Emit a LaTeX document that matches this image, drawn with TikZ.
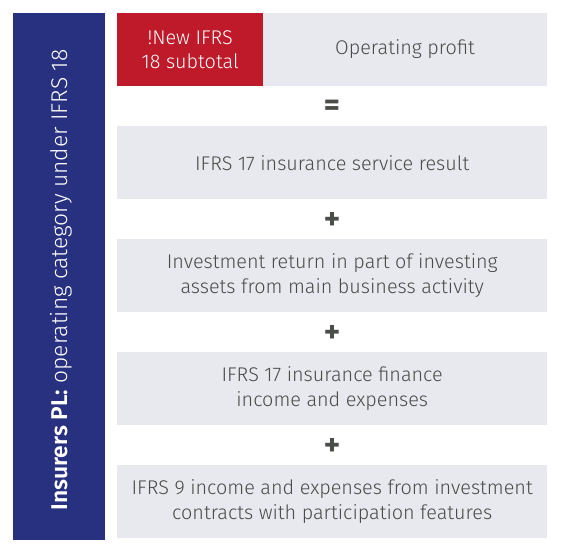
\documentclass[tikz,border=0pt]{standalone}
\usepackage{fontspec}
\setmainfont{Fira Sans Light}[BoldFont={Fira Sans SemiBold}]
\newfontfamily\opfont{Fira Sans Bold}
\definecolor{navy}{HTML}{283080}
\definecolor{redbox}{HTML}{BE1A2A}
\definecolor{greybox}{HTML}{E8E9EE}
\definecolor{txt}{HTML}{4A4A48}
\definecolor{optxt}{HTML}{4B4D48}
\begin{document}
\begin{tikzpicture}[x=1pt,y=-1pt,
  box/.style={fill=greybox,draw=none,minimum width=430pt,minimum height=73pt,inner sep=0pt,
    text=txt,font=\fontsize{19.8}{24.5}\selectfont,align=center,anchor=north west},
  op/.style={text=optxt,font=\fontsize{31}{31}\selectfont\opfont,inner sep=0pt}]
\useasboundingbox (0,0) rectangle (561,553);
\fill[navy] (13,13) rectangle (105,540);
\node[rotate=90,text=white,font=\fontsize{22.8}{24}\selectfont] (side) at (61,280)
  {\textbf{Insurers PL:} operating category under IFRS 18};
\node[box] (b1) at (117,13) {};
\node[fill=redbox,minimum width=146pt,minimum height=73pt,inner sep=0pt,anchor=north west,
  text=white,font=\fontsize{19.8}{24.5}\selectfont,align=center] (new) at (117,13) {!New IFRS\\18 subtotal};
\node[text=txt,font=\fontsize{19.8}{24.5}\selectfont] (op) at (405,49) {Operating profit};
\node[op] (eq) at (332,108) {=};
\node[op] (p1) at (332,220.5) {+};
\node[op] (p2) at (332,333.5) {+};
\node[op] (p3) at (332,446.5) {+};
\node[box] (b2) at (117,126) {IFRS 17 insurance service result};
\node[box] (b3) at (117,239) {Investment return in part of investing\\assets from main business activity};
\node[box] (b4) at (117,352) {IFRS 17 insurance finance\\income and expenses};
\node[box] (b5) at (117,465) {IFRS 9 income and expenses from investment\\contracts with participation features};
\end{tikzpicture}
\end{document}
